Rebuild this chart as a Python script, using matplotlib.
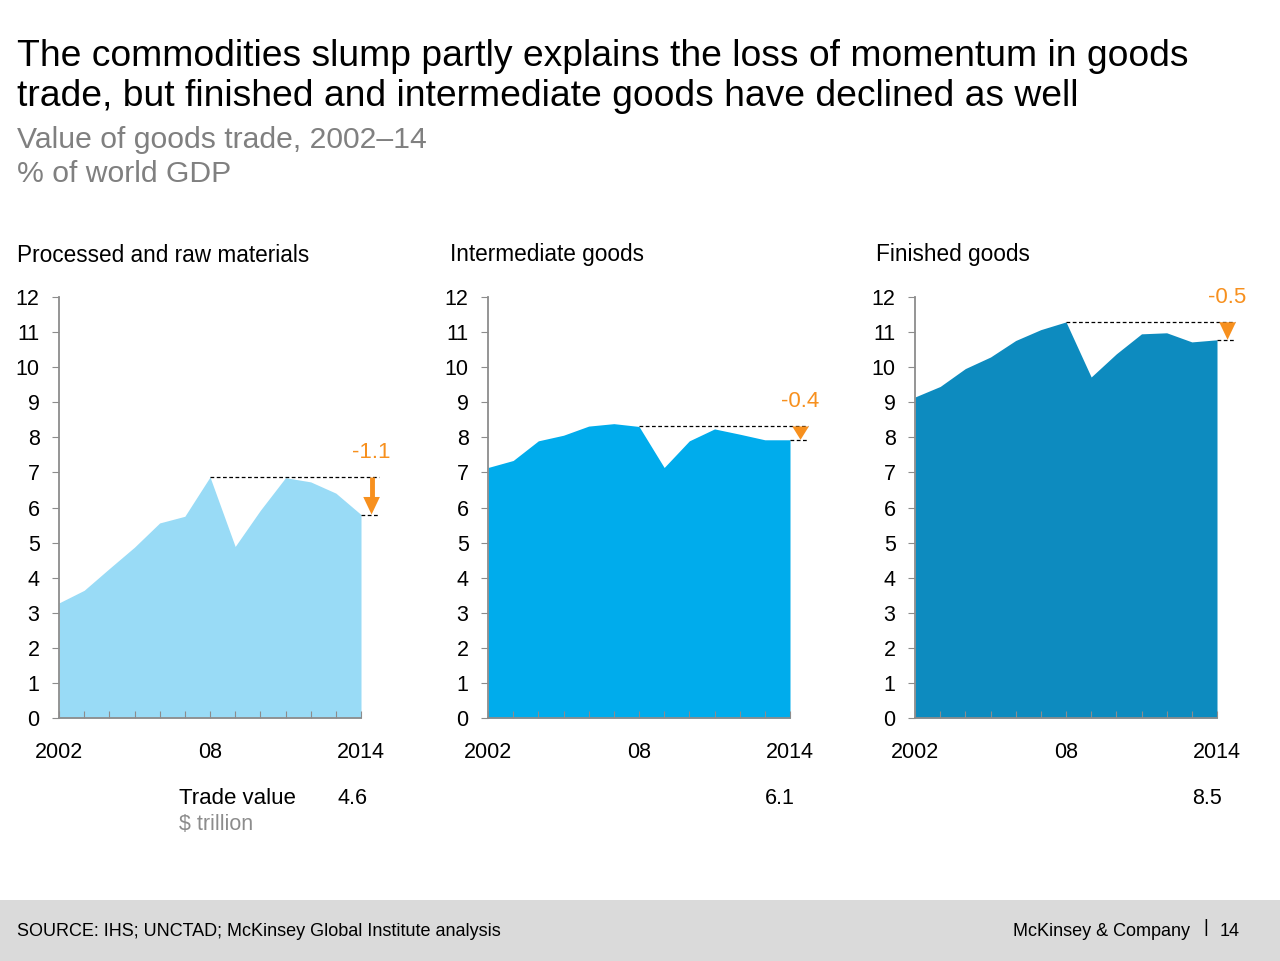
import numpy as np
import matplotlib
matplotlib.use("Agg")
import matplotlib.pyplot as plt
from matplotlib.patches import Polygon

plt.rcParams['font.family'] = ['Liberation Sans', 'DejaVu Sans']

# data (% of world GDP)
years = np.arange(2002, 2015)
raw_materials = [3.28, 3.64, 4.26, 4.87, 5.56, 5.75, 6.87, 4.89, 5.92, 6.85, 6.73, 6.41, 5.80]
intermediate = [7.14, 7.34, 7.90, 8.06, 8.32, 8.39, 8.31, 7.14, 7.90, 8.24, 8.09, 7.93, 7.93]
finished = [9.15, 9.45, 9.96, 10.29, 10.76, 11.07, 11.29, 9.72, 10.38, 10.95, 10.98, 10.72, 10.78]

panel_titles = ["Processed and raw materials", "Intermediate goods", "Finished goods"]
change_labels = ["-1.1", "-0.4", "-0.5"]
trade_values = ["4.6", "6.1", "8.5"]
peak_year = 2008

series = [raw_materials, intermediate, finished]
colors = ["#99DBF6", "#00ACEC", "#0D8BBF"]
orange = "#F7901E"
axis_grey = "#8C8C8C"

W, H = 1280, 961
fig = plt.figure(figsize=(12.8, 9.61), dpi=100)

# header
fig.text(17 / W, 1 - 66 / H, "The commodities slump partly explains the loss of momentum in goods",
         fontsize=26.8, va="baseline", ha="left")
fig.text(17 / W, 1 - 106 / H, "trade, but finished and intermediate goods have declined as well",
         fontsize=26.8, va="baseline", ha="left")
fig.text(17 / W, 1 - 148 / H, "Value of goods trade, 2002\u201314", fontsize=21.7,
         color="#808080", va="baseline", ha="left")
fig.text(17 / W, 1 - 182 / H, "% of world GDP", fontsize=21.7, color="#808080",
         va="baseline", ha="left")

lefts = [59, 488, 915]
title_x = [17, 450, 876]
value_x = [352, 780, 1207]

for i in range(3):
    vals = np.array(series[i])
    ax = fig.add_axes([lefts[i] / W, (H - 718) / H, 302 / W, 421 / H])
    ax.fill_between(years, vals, 0, color=colors[i], lw=0)
    ax.set_xlim(2002, 2014)
    ax.set_ylim(0, 12)
    for s in ["top", "right"]:
        ax.spines[s].set_visible(False)
    for s in ["left", "bottom"]:
        ax.spines[s].set_color(axis_grey)
        ax.spines[s].set_linewidth(1.3)
        ax.spines[s].set_zorder(5)
    ax.set_yticks(range(13))
    ax.tick_params(axis="y", direction="out", length=5, color=axis_grey,
                   labelsize=15.5, pad=9)
    ax.set_xticks(years)
    ax.set_xticklabels(["2002" if y == 2002 else "08" if y == 2008 else
                        "2014" if y == 2014 else "" for y in years])
    ax.tick_params(axis="x", direction="in", length=5, color=axis_grey,
                   labelsize=15.5, pad=17)

    fig.text(title_x[i] / W, 1 - 255 / H, panel_titles[i], fontsize=16.3,
             va="center", ha="left")

    # drop from 2008 peak to 2014
    peak = vals[list(years).index(peak_year)]
    last = vals[-1]
    x_end = 2014.72
    xa = 2014.42
    ax.plot([peak_year, x_end], [peak, peak], color="black", lw=0.9,
            ls=(0, (3, 2)), clip_on=False, zorder=6)
    ax.plot([2014, x_end], [last, last], color="black", lw=0.9,
            ls=(0, (3, 2)), clip_on=False, zorder=6)
    head = min(peak - last, 0.5)
    if peak - last > head + 0.05:
        ax.plot([xa, xa], [peak, last + head], color=orange, lw=3.5,
                solid_capstyle="butt", clip_on=False, zorder=7)
    tri = Polygon([(xa - 0.33, last + head), (xa + 0.33, last + head), (xa, last)],
                  closed=True, color=orange, lw=0, clip_on=False, zorder=7)
    ax.add_patch(tri)
    ax.text(xa, peak + 0.7, change_labels[i], color=orange, fontsize=16,
            ha="center", va="center", clip_on=False)

    fig.text(value_x[i] / W, 1 - 798 / H, trade_values[i], fontsize=15.5,
             ha="center", va="center")

fig.text(179 / W, 1 - 798 / H, "Trade value", fontsize=16, ha="left", va="center")
fig.text(179 / W, 1 - 825 / H, "$ trillion", fontsize=15.5, color="#8C8C8C",
         ha="left", va="center")

# footer band
fig.patches.append(plt.Rectangle((0, 0), 1, 61 / H, transform=fig.transFigure,
                                 color="#DADADA", lw=0, zorder=0))
fig.text(17 / W, 1 - 931 / H, "SOURCE: IHS; UNCTAD; McKinsey Global Institute analysis",
         fontsize=13, ha="left", va="center")
fig.text(1190 / W, 1 - 931 / H, "McKinsey & Company", fontsize=13,
         ha="right", va="center")
fig.text(1206 / W, 1 - 928 / H, "|", fontsize=13, ha="center", va="center")
fig.text(1240 / W, 1 - 931 / H, "14", fontsize=13, ha="right", va="center")

fig.savefig("out.png", dpi=100)
